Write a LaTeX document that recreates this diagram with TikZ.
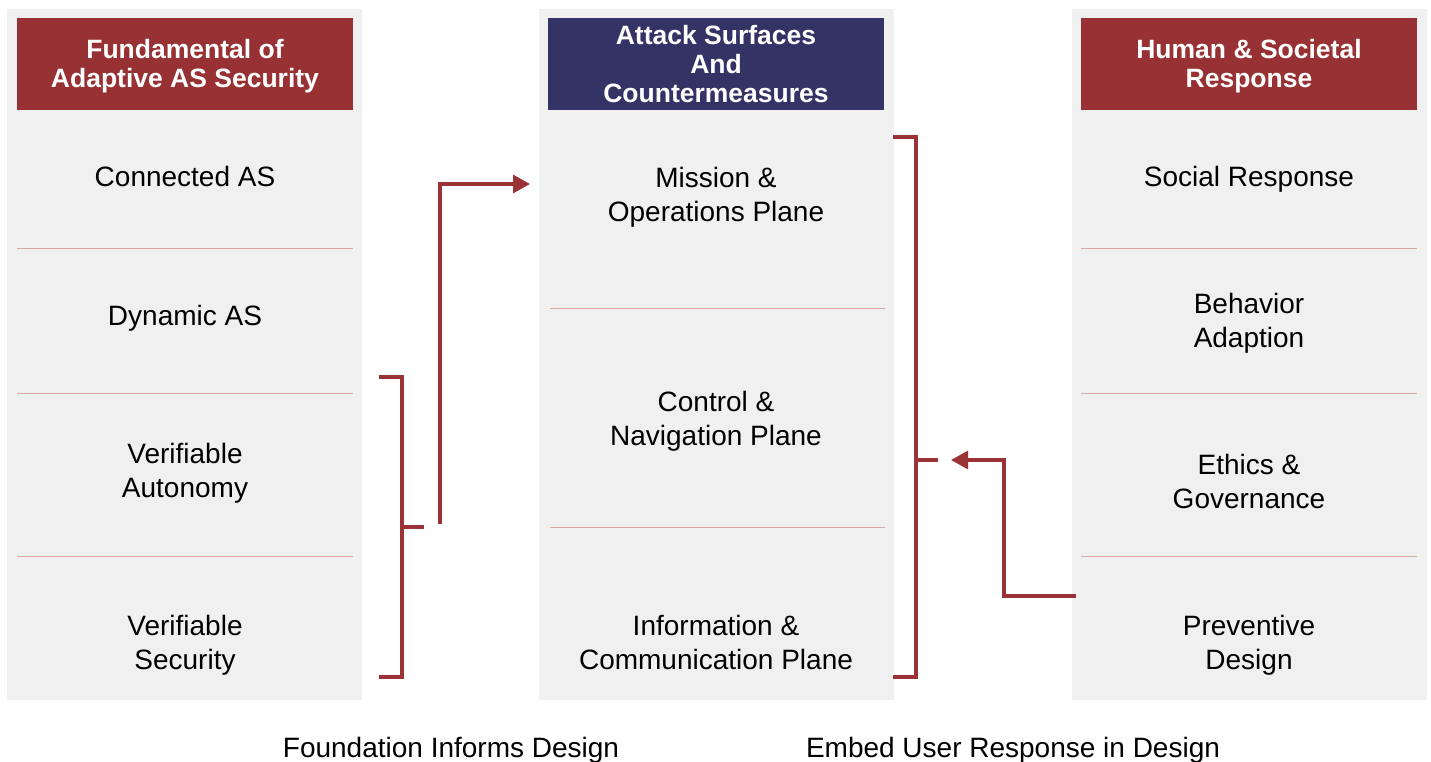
\documentclass[tikz,border=0pt]{standalone}
\usepackage{fontspec}
\setmainfont{Liberation Sans}
\usetikzlibrary{arrows.meta,calc}
\definecolor{headred}{HTML}{973134}
\definecolor{headblue}{HTML}{343366}
\definecolor{panelgray}{HTML}{F0F0F0}
\definecolor{rulepink}{HTML}{DBA6A6}
\definecolor{linkred}{HTML}{9B3236}
\tikzstyle{panel}=[fill=panelgray,draw=none,inner sep=0pt,anchor=north west]
\tikzstyle{header}=[fill=headred,inner sep=0pt,minimum width=336pt,minimum height=92pt]
\tikzstyle{headtext}=[text=white,align=center,inner sep=0pt,font=\fontsize{26.5}{29}\selectfont\bfseries]
\tikzstyle{item}=[align=center,font=\fontsize{28}{34}\selectfont]
\tikzstyle{divider}=[draw=rulepink,line width=0.8pt]
\tikzstyle{link}=[draw=linkred,line width=3.2pt]
\tikzstyle{linkarrow}=[link,-{Triangle[length=17pt,width=18pt]}]

\begin{document}
\begin{tikzpicture}[x=1pt,y=-1pt]
\useasboundingbox (0,0) rectangle (1431,762);

% panels
\node[panel,minimum width=355pt,minimum height=691pt] (leftpanel) at (7,9) {};
\node[panel,minimum width=355pt,minimum height=691pt] (midpanel) at (539,9) {};
\node[panel,minimum width=355pt,minimum height=691pt] (rightpanel) at (1072,9) {};

% headers
\node[header] (lefthead) at (185,64) {};
\node[header,fill=headblue] (midhead) at (716,64) {};
\node[header] (righthead) at (1249,64) {};
\node[headtext] (lefttitle) at (185,66) {Fundamental of\\Adaptive AS Security};
\node[headtext] (midtitle) at (716,64) {Attack Surfaces\\And\\Countermeasures};
\node[headtext] (righttitle) at (1249,66) {Human \& Societal\\Response};

% dividers
\foreach \y in {248,393,556} {
  \draw[divider] (17,\y) -- (353,\y);
  \draw[divider] (1081,\y) -- (1417,\y);
}
\foreach \y in {308,527} {
  \draw[divider] (550,\y) -- (885,\y);
}

% left column
\node[item] (connected) at (185,176) {Connected AS};
\node[item] (dynamic) at (185,318) {Dynamic AS};
\node[item] (autonomy) at (185,473) {Verifiable\\Autonomy};
\node[item] (security) at (185,645.5) {Verifiable\\Security};

% middle column
\node[item] (mission) at (716,197) {Mission \&\\Operations Plane};
\node[item] (control) at (716,421) {Control \&\\Navigation Plane};
\node[item] (information) at (716,642.5) {Information \&\\Communication Plane};

% right column
\node[item] (social) at (1249,179) {Social Response};
\node[item] (behavior) at (1249,323) {Behavior\\Adaption};
\node[item] (ethics) at (1249,481.5) {Ethics \&\\Governance};
\node[item] (preventive) at (1249,645.5) {Preventive\\Design};

% bottom captions
\node[item] (foundcap) at (451,750) {Foundation Informs Design};
\node[item] (embedcap) at (1013,750) {Embed User Response in Design};

% left bracket and arrow
\coordinate (lbtop) at (379,377);
\coordinate (lbbot) at (379,677);
\coordinate (lbmid) at (402,527);
\coordinate (lbtick) at (424,527);
\coordinate (lfoot) at (440,524);
\coordinate (missionin) at (530,184);
\draw[link] (lbtop) -| (lbbot -| lbmid) -- (lbbot);
\draw[link] (lbmid) -- (lbtick);
\draw[linkarrow] (lfoot) |- (missionin);

% right bracket and arrow
\coordinate (rbtop) at (893,137);
\coordinate (rbbot) at (893,677);
\coordinate (rbmid) at (916,460);
\coordinate (rbtick) at (938,460);
\coordinate (rfoot) at (1076,596);
\coordinate (rbin) at (951,460);
\draw[link] (rbtop) -| (rbbot -| rbmid) -- (rbbot);
\draw[link] (rbmid) -- (rbtick);
\draw[linkarrow] (rfoot) -| (1004,460) -- (rbin);
\end{tikzpicture}
\end{document}
